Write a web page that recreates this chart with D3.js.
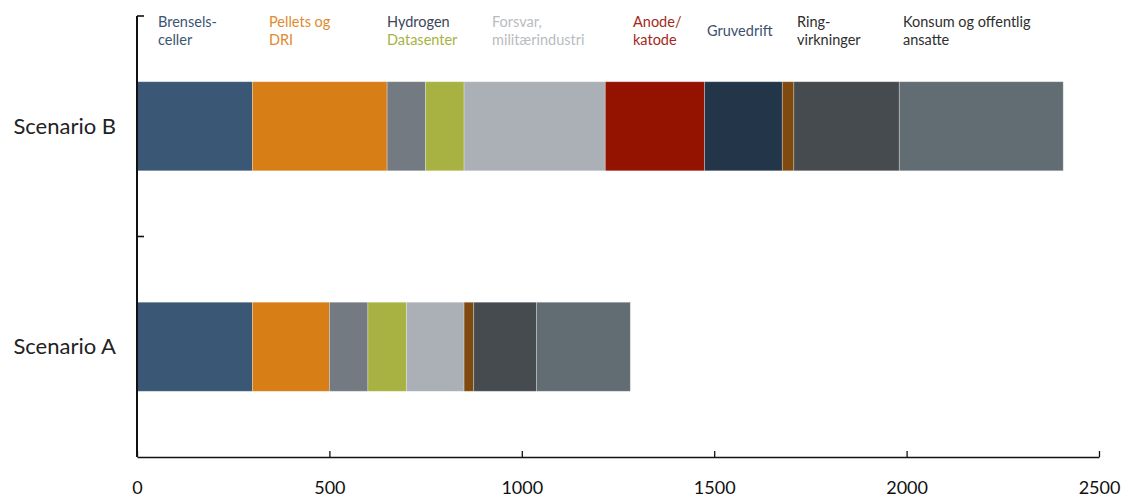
<!DOCTYPE html>
<html>
<head>
<meta charset="utf-8">
<script src="https://cdn.jsdelivr.net/npm/d3@7"></script>
<style>
  html, body { margin: 0; padding: 0; background: #ffffff; }
  svg { display: block; }
  text { font-family: Lato, "Open Sans", "DejaVu Sans", sans-serif; }
</style>
</head>
<body>
<svg id="chart" width="1128" height="499"></svg>
<script>
// ---- data ----
const categories = ["Scenario B", "Scenario A"];
const seriesNames = [
  "Brenselsceller", "Pellets og DRI", "Hydrogen", "Datasenter",
  "Forsvar, militærindustri", "Anode/katode", "Gruvedrift", "Øvrig",
  "Ringvirkninger", "Konsum og offentlig ansatte"
];
const scenarioA = [300, 200, 100, 100, 150, 0, 0, 25, 163, 244];
const scenarioB = [300, 350, 100, 100, 367, 258, 202, 30, 274, 426];
const seriesColors = [
  "#3A5875", "#D77E17", "#737A81", "#A7B242", "#AAB0B6",
  "#941300", "#233548", "#7F4A10", "#464B50", "#626C73"
];
const tickValues = [0, 500, 1000, 1500, 2000, 2500];
// labels written above the bars (lines of text)
const labelLines = [
  ["Brensels-", "celler"], ["Pellets og", "DRI"], ["Hydrogen"], ["", "Datasenter"],
  ["Forsvar,", "militærindustri"], ["Anode/", "katode"], ["Gruvedrift"], [],
  ["Ring-", "virkninger"], ["Konsum og offentlig", "ansatte"]
];
const labelColors = [
  "#3B5573", "#E08A2C", "#3A4556", "#A7B242", "#B8BCC0",
  "#A3281A", "#3B506B", "#7F4A10", "#2E2E2E", "#2E2E2E"
];

// ---- layout ----
const W = 1128, H = 499;
const svg = d3.select("#chart");
const x = d3.scaleLinear().domain([0, 2500]).range([137, 1099]);
const y = d3.scaleBand().domain(categories).range([16, 457])
  .paddingInner(0.596).paddingOuter(0.298);

const valuesByCat = { "Scenario A": scenarioA, "Scenario B": scenarioB };
const rows = categories.map(c => {
  const obj = { cat: c };
  seriesNames.forEach((s, i) => obj[s] = valuesByCat[c][i]);
  return obj;
});
const stack = d3.stack().keys(seriesNames)(rows);

// bars
const g = svg.append("g");
stack.forEach((layer, i) => {
  g.selectAll(null).data(layer.filter(d => d[1] - d[0] > 0)).enter()
    .append("rect")
    .attr("x", d => x(d[0]))
    .attr("y", d => y(d.data.cat))
    .attr("width", d => x(d[1]) - x(d[0]))
    .attr("height", y.bandwidth())
    .attr("fill", seriesColors[i])
    .attr("stroke", "rgba(255,255,255,0.35)")
    .attr("stroke-width", 0.8);
});

// x axis
const xAxis = d3.axisBottom(x).tickValues(tickValues).tickFormat(d3.format("d"))
  .tickSizeInner(-6).tickSizeOuter(0).tickPadding(24);
const xg = svg.append("g").attr("transform", "translate(0,457)").call(xAxis);
xg.select(".domain").attr("stroke", "#111").attr("stroke-width", 1.6);
xg.selectAll(".tick line").attr("stroke", "#111").attr("stroke-width", 1.3);
xg.selectAll(".tick text").attr("font-size", 18).attr("fill", "#111");

// y axis (custom: line + ticks at band boundaries pointing right)
const yTop = y.range()[0], yBot = y.range()[1];
svg.append("line").attr("x1", x(0)).attr("x2", x(0)).attr("y1", yTop).attr("y2", yBot)
  .attr("stroke", "#111").attr("stroke-width", 2);
const bounds = [yTop, yTop + y.step()];
svg.selectAll(null).data(bounds).enter().append("line")
  .attr("x1", x(0)).attr("x2", x(0) + 7).attr("y1", d => d).attr("y2", d => d)
  .attr("stroke", "#111").attr("stroke-width", 1.6);

// category labels
svg.selectAll(null).data(categories).enter().append("text")
  .attr("x", 116).attr("y", d => y(d) + y.bandwidth() / 2)
  .attr("dy", "0.35em").attr("text-anchor", "end")
  .attr("font-size", 22).attr("fill", "#222").text(d => d);

// series labels above the chart
const labelX = [158, 269, 387, 387, 492, 633, 707, 0, 797, 903];
const lineY = [27, 45];
labelLines.forEach((lines, i) => {
  if (!lines.length) return;
  const t = svg.append("text").attr("font-size", 14.5).attr("fill", labelColors[i]);
  if (lines.length === 1) {
    t.attr("x", labelX[i]).attr("y", i === 6 ? 36 : lineY[0]).text(lines[0]);
  } else {
    lines.forEach((ln, k) => {
      if (ln) t.append("tspan").attr("x", labelX[i]).attr("y", lineY[k]).text(ln);
    });
  }
});
</script>
</body>
</html>
